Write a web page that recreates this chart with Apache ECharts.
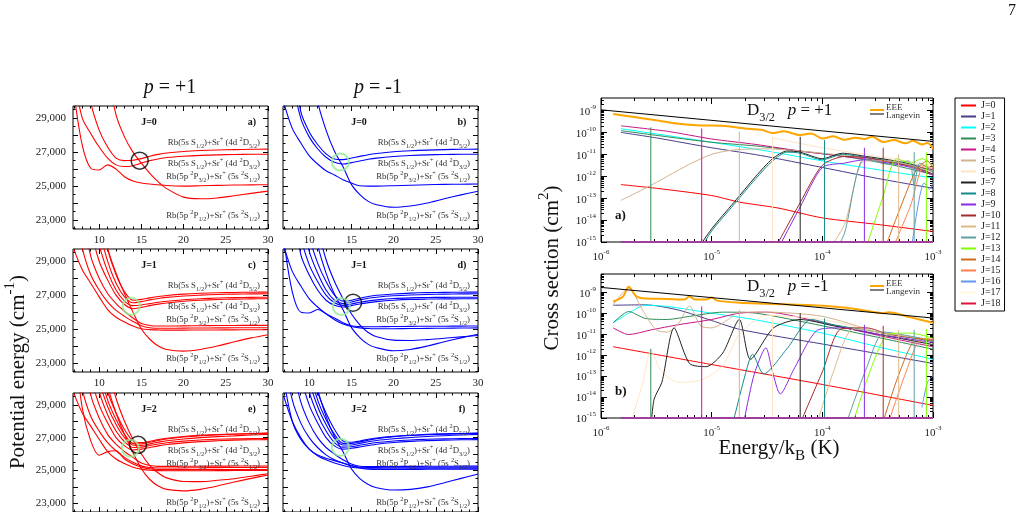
<!DOCTYPE html>
<html>
<head>
<meta charset="utf-8">
<script src="https://cdn.jsdelivr.net/npm/echarts@6/dist/echarts.min.js"></script>
<style>
html, body { margin: 0; padding: 0; background: #fff; }
#main { width: 1026px; height: 512px; }
</style>
</head>
<body>
<div id="main"></div>
<script>
// ---- potential curves (left), energies in cm-1 sampled on rGrid (bohr) ----
var rGrid = [7, 8, 9, 10, 11, 12, 13, 14, 15, 16, 17, 18, 20, 22, 24, 26, 28, 30];
var rTicks = [10, 15, 20, 25, 30];
var eTicks = [23000, 25000, 27000, 29000];

var potA = [
  [60000, 50000, 42000, 36000, 31800, 29200, 27900, 27000, 26350, 25750, 25250, 24850, 24350, 24250, 24300, 24430, 24570, 24700],
  [30500, 27400, 26050, 25950, 26250, 26000, 25550, 25300, 25180, 25120, 25080, 25030, 25000, 25020, 25040, 25060, 25070, 25080],
  [45000, 36000, 30000, 28300, 27300, 26650, 26500, 26520, 26620, 26760, 26870, 26950, 27040, 27095, 27130, 27150, 27168, 27180],
  [31500, 29000, 28100, 27300, 26650, 26250, 26150, 26200, 26350, 26500, 26600, 26680, 26760, 26810, 26840, 26860, 26872, 26880]
];
var potB = [
  [60000, 52000, 44000, 33500, 30000, 28300, 27050, 26150, 25100, 24500, 24100, 23900, 23750, 23830, 24000, 24250, 24480, 24690],
  [29900, 28400, 27550, 26800, 26300, 25900, 25650, 25380, 25180, 25020, 25000, 25000, 25020, 25050, 25080, 25100, 25110, 25120],
  [40000, 33000, 29400, 28200, 27450, 26900, 26600, 26560, 26650, 26750, 26850, 26920, 27020, 27080, 27120, 27150, 27170, 27180],
  [38000, 31500, 29000, 27900, 27200, 26700, 26400, 26300, 26380, 26480, 26580, 26650, 26740, 26800, 26840, 26860, 26872, 26880]
];
var potC = [
  [60000, 50000, 42000, 33000, 29800, 28300, 27100, 26000, 25000, 24400, 24000, 23800, 23700, 23800, 24000, 24250, 24480, 24670],
  [29700, 28500, 27700, 26900, 26150, 25700, 25420, 25180, 25020, 24970, 24950, 24940, 24940, 24945, 24950, 24955, 24958, 24960],
  [33000, 29800, 28200, 27300, 26600, 26100, 25750, 25450, 25200, 25080, 25050, 25050, 25055, 25065, 25070, 25075, 25078, 25080],
  [38000, 32000, 29300, 28000, 27100, 26500, 26050, 25650, 25330, 25210, 25180, 25180, 25190, 25200, 25210, 25215, 25218, 25220],
  [45000, 36000, 31000, 29000, 27900, 27000, 26450, 26200, 26280, 26380, 26470, 26540, 26640, 26700, 26740, 26765, 26780, 26790],
  [50000, 40000, 33000, 30000, 28400, 27300, 26650, 26380, 26420, 26500, 26580, 26640, 26730, 26790, 26830, 26855, 26870, 26880],
  [55000, 43000, 35000, 31000, 29000, 27700, 26900, 26550, 26620, 26720, 26800, 26870, 26950, 27000, 27040, 27060, 27072, 27080],
  [60000, 46000, 37000, 32000, 29700, 28200, 27200, 26700, 26750, 26840, 26920, 26980, 27060, 27110, 27140, 27160, 27172, 27180]
];
var potD = [
  [60000, 52000, 44000, 33500, 30000, 28300, 27050, 26150, 25100, 24500, 24100, 23900, 23720, 23800, 24000, 24250, 24480, 24690],
  [60000, 50000, 40000, 34000, 31000, 29100, 27800, 26800, 25900, 25250, 24800, 24550, 24350, 24330, 24380, 24460, 24540, 24620],
  [30200, 27200, 26000, 25950, 26150, 25900, 25550, 25300, 25150, 25070, 25030, 25020, 25020, 25030, 25040, 25050, 25060, 25070],
  [29900, 28400, 27550, 26800, 26300, 25900, 25650, 25380, 25200, 25150, 25140, 25140, 25150, 25160, 25165, 25170, 25175, 25180],
  [40000, 33000, 29400, 28200, 27300, 26700, 26400, 26300, 26380, 26480, 26560, 26620, 26700, 26750, 26770, 26780, 26785, 26790],
  [44000, 35000, 30500, 28800, 27800, 27000, 26550, 26400, 26480, 26580, 26660, 26720, 26800, 26840, 26860, 26870, 26876, 26880],
  [48000, 38000, 32000, 29600, 28300, 27300, 26700, 26500, 26600, 26720, 26820, 26880, 26960, 27010, 27040, 27060, 27072, 27080],
  [52000, 41000, 34000, 30500, 28900, 27800, 27000, 26650, 26700, 26820, 26920, 26990, 27070, 27120, 27150, 27165, 27175, 27180]
];
var potE = [
  [60000, 50000, 42000, 34000, 30200, 28500, 27200, 26100, 25100, 24450, 24050, 23850, 23760, 23850, 24050, 24300, 24520, 24720],
  [60000, 52000, 44000, 36000, 31500, 29400, 28000, 26900, 26000, 25300, 24850, 24550, 24330, 24320, 24400, 24500, 24650, 24800],
  [33000, 28800, 26800, 25930, 26150, 26200, 25700, 25400, 25200, 25100, 25060, 25050, 25050, 25052, 25055, 25058, 25060, 25060],
  [29700, 28500, 27700, 26900, 26150, 25700, 25420, 25200, 25080, 25010, 24990, 24980, 24980, 24985, 24990, 24995, 24998, 25000],
  [34000, 30000, 28300, 27400, 26700, 26200, 25800, 25500, 25280, 25180, 25150, 25150, 25160, 25170, 25175, 25180, 25185, 25190],
  [38000, 32500, 29600, 28200, 27200, 26600, 26150, 25800, 25450, 25300, 25250, 25250, 25255, 25260, 25265, 25270, 25272, 25275],
  [42000, 35000, 30800, 29000, 27900, 27000, 26500, 26250, 26300, 26400, 26500, 26580, 26680, 26760, 26810, 26850, 26870, 26880],
  [46000, 37000, 32000, 29800, 28400, 27400, 26750, 26400, 26420, 26520, 26610, 26690, 26790, 26860, 26900, 26925, 26940, 26950],
  [50000, 40000, 33500, 30500, 28900, 27800, 27000, 26550, 26520, 26620, 26720, 26810, 26920, 27000, 27060, 27110, 27160, 27200],
  [54000, 43000, 35000, 31200, 29300, 28100, 27200, 26650, 26620, 26720, 26830, 26920, 27040, 27120, 27170, 27210, 27240, 27260],
  [58000, 46000, 37000, 32000, 29800, 28500, 27500, 26800, 26700, 26780, 26880, 26960, 27070, 27140, 27190, 27225, 27250, 27275]
];
var potF = [
  [60000, 52000, 44000, 33500, 30000, 28300, 27050, 26150, 25100, 24500, 24150, 23950, 23810, 23850, 24000, 24250, 24520, 24780],
  [29500, 28000, 27000, 26300, 25900, 25650, 25450, 25300, 25200, 25150, 25140, 25140, 25140, 25140, 25140, 25140, 25140, 25140],
  [32000, 29300, 27900, 27000, 26400, 25950, 25650, 25450, 25280, 25200, 25190, 25190, 25195, 25200, 25200, 25200, 25200, 25200],
  [36000, 31500, 29200, 27900, 27000, 26400, 26000, 25650, 25400, 25260, 25240, 25240, 25245, 25250, 25255, 25260, 25262, 25265],
  [30500, 28000, 26900, 26300, 25950, 25750, 25600, 25450, 25300, 25150, 25080, 25060, 25060, 25065, 25070, 25075, 25078, 25080],
  [42000, 35000, 30800, 29000, 27900, 27000, 26500, 26300, 26350, 26430, 26520, 26600, 26700, 26770, 26820, 26850, 26870, 26880],
  [46000, 37000, 32000, 29800, 28400, 27400, 26700, 26420, 26450, 26540, 26630, 26700, 26800, 26860, 26900, 26925, 26940, 26950],
  [50000, 40000, 33500, 30500, 28900, 27800, 26950, 26550, 26550, 26650, 26750, 26830, 26930, 27010, 27070, 27120, 27165, 27200],
  [54000, 43000, 35000, 31200, 29300, 28100, 27200, 26650, 26640, 26740, 26850, 26940, 27050, 27130, 27180, 27215, 27240, 27260],
  [58000, 46000, 37000, 32000, 29800, 28500, 27500, 26800, 26720, 26800, 26900, 26980, 27080, 27150, 27200, 27230, 27255, 27275]
];
// avoided-crossing rings: [panel, r, E]
var ringsBlack = [[0, 14.8, 26500], [3, 15.2, 26550], [4, 14.6, 26560]];
var ringsGreen = [[1, 13.7, 26420], [2, 13.8, 26350], [3, 13.8, 26330], [4, 13.7, 26350], [5, 13.7, 26410]];

// ---- cross sections (right): pairs [log10 E/kB, log10 sigma] ----
var jNames = ['J=0', 'J=1', 'J=2', 'J=3', 'J=4', 'J=5', 'J=6', 'J=7', 'J=8', 'J=9',
  'J=10', 'J=11', 'J=12', 'J=13', 'J=14', 'J=15', 'J=16', 'J=17', 'J=18'];
var jColors = ['#ff0000', '#483d8b', '#00ffff', '#2e8b57', '#c71585', '#d2b48c', '#ffe4c4', '#222222', '#138a8a', '#8a2be2',
  '#a52a2a', '#deb887', '#5f9ea0', '#7fff00', '#d2691e', '#ff7f50', '#6495ed', '#fff8dc', '#dc143c'];
var logETicks = [-6, -5, -4, -3];
var logSigmaTicks = [-15, -14, -13, -12, -11, -10, -9];

var crossPlus = [
  [[-5.82, -12.38], [-5.5, -12.55], [-5.0, -12.88], [-4.75, -13.18], [-4.4, -13.45], [-4.0, -13.9], [-3.5, -14.2], [-3.0, -14.52]],
  [[-5.82, -10.0], [-5.5, -10.25], [-5.0, -10.7], [-4.56, -11.05], [-4.0, -11.6], [-3.5, -12.1], [-3.0, -12.55]],
  [[-5.82, -9.83], [-5.0, -10.45], [-4.5, -10.85], [-4.0, -11.3], [-3.5, -11.7], [-3.0, -12.08]],
  [[-5.82, -9.92], [-5.4, -10.2], [-5.0, -10.45], [-4.6, -10.62], [-4.2, -10.85], [-3.8, -11.1], [-3.4, -11.45], [-3.0, -11.92]],
  [[-5.82, -9.7], [-5.4, -9.95], [-5.0, -10.3], [-4.6, -10.55], [-4.2, -10.85], [-3.8, -11.1], [-3.4, -11.35], [-3.0, -11.7]],
  [[-5.82, -13.1], [-5.6, -12.55], [-5.4, -12.0], [-5.2, -11.45], [-5.0, -11.0], [-4.8, -10.8], [-4.5, -10.75], [-4.2, -10.85], [-3.8, -11.05], [-3.4, -11.3], [-3.0, -11.6]],
  [[-4.45, -10.25], [-4.0, -10.7], [-3.5, -11.1], [-3.0, -11.5]],
  [[-5.15, -15.5], [-5.0, -14.4], [-4.8, -13.2], [-4.6, -12.0], [-4.45, -11.2], [-4.32, -10.85], [-4.2, -10.9], [-4.0, -11.2], [-3.82, -10.95], [-3.6, -11.1], [-3.4, -11.25], [-3.2, -11.45], [-3.0, -11.8]],
  [[-5.12, -15.5], [-5.0, -14.5], [-4.8, -13.3], [-4.6, -12.1], [-4.45, -11.3], [-4.32, -10.9], [-4.2, -10.95], [-4.0, -11.25], [-3.82, -11.0], [-3.6, -11.15], [-3.4, -11.3], [-3.2, -11.5], [-3.0, -11.9]],
  [[-4.42, -15.5], [-4.2, -13.4], [-4.0, -11.6], [-3.8, -11.4], [-3.62, -11.25], [-3.4, -11.4], [-3.2, -11.6], [-3.0, -11.95]],
  [[-4.45, -15.5], [-4.2, -13.2], [-4.0, -11.5], [-3.8, -11.1], [-3.6, -11.15], [-3.4, -11.35], [-3.2, -11.55], [-3.0, -11.9]],
  [[-4.0, -15.8], [-3.8, -14.2], [-3.62, -11.3], [-3.4, -11.3], [-3.2, -11.5], [-3.0, -11.8]],
  [[-3.9, -15.6], [-3.8, -14.6], [-3.62, -11.2], [-3.4, -11.45], [-3.22, -11.3], [-3.17, -12.4], [-3.12, -11.4], [-3.0, -11.8]],
  [[-3.62, -15.5], [-3.45, -12.9], [-3.33, -11.2], [-3.2, -11.4], [-3.1, -11.2], [-3.0, -11.5]],
  [[-3.45, -15.5], [-3.3, -13.5], [-3.15, -11.7], [-3.05, -11.3], [-3.0, -11.6]],
  [[-3.38, -15.5], [-3.2, -13.3], [-3.08, -11.5], [-3.0, -11.7]],
  [[-3.2, -15.5], [-3.08, -12.3], [-3.03, -12.6], [-3.0, -12.3]]
];
var crossMinus = [
  [[-5.89, -11.6], [-5.0, -12.45], [-4.0, -13.4], [-3.0, -14.4]],
  [[-5.89, -9.62], [-5.6, -9.6], [-5.3, -9.85], [-5.0, -10.35], [-4.74, -10.78], [-4.0, -11.47], [-3.5, -11.93], [-3.0, -12.4]],
  [[-5.89, -10.46], [-5.75, -10.0], [-5.6, -9.62], [-5.4, -9.68], [-5.0, -10.0], [-4.6, -10.32], [-4.0, -10.95], [-3.5, -11.6], [-3.0, -12.2]],
  [[-5.89, -10.46], [-5.75, -9.92], [-5.6, -10.25], [-5.4, -10.3], [-5.2, -10.15], [-4.9, -9.95], [-4.6, -10.0], [-4.0, -10.6], [-3.5, -11.15], [-3.0, -11.72]],
  [[-5.89, -10.7], [-5.75, -11.02], [-5.55, -10.8], [-5.3, -10.55], [-5.0, -10.3], [-4.75, -10.0], [-4.5, -9.95], [-4.0, -10.45], [-3.5, -11.05], [-3.0, -11.6]],
  [[-5.89, -9.6], [-5.75, -8.8], [-5.62, -9.9], [-5.5, -10.8], [-5.4, -10.9], [-5.3, -10.5], [-5.2, -9.65], [-5.1, -10.6], [-5.0, -10.7], [-4.85, -10.3], [-4.75, -9.95], [-4.5, -9.95], [-4.0, -10.15], [-3.5, -10.9], [-3.0, -11.5]],
  [[-5.75, -15.5], [-5.62, -13.3], [-5.55, -11.8], [-5.45, -12.8], [-5.3, -13.3], [-5.1, -13.2], [-4.9, -12.5], [-4.75, -11.0], [-4.5, -10.1], [-4.0, -10.3], [-3.5, -10.9], [-3.0, -11.5]],
  [[-5.55, -15.5], [-5.52, -14.1], [-5.45, -13.3], [-5.34, -10.7], [-5.2, -12.4], [-5.05, -12.55], [-4.9, -11.9], [-4.75, -10.3], [-4.65, -12.2], [-4.44, -10.7], [-4.2, -10.3], [-3.9, -10.6], [-3.5, -11.0], [-3.0, -11.5]],
  [[-4.82, -15.5], [-4.7, -13.0], [-4.63, -11.96], [-4.53, -12.9], [-4.32, -11.7], [-4.1, -10.3], [-3.9, -10.55], [-3.5, -10.9], [-3.0, -11.35]],
  [[-4.72, -15.5], [-4.62, -13.0], [-4.51, -11.65], [-4.45, -12.8], [-4.38, -13.85], [-4.25, -12.6], [-4.04, -10.8], [-3.83, -10.7], [-3.5, -11.0], [-3.0, -11.4]],
  [[-4.22, -15.5], [-4.0, -12.8], [-3.83, -10.75], [-3.6, -10.7], [-3.4, -11.0], [-3.0, -11.3]],
  [[-4.06, -15.5], [-3.9, -12.8], [-3.72, -10.75], [-3.5, -10.9], [-3.0, -11.3]],
  [[-3.8, -15.5], [-3.6, -12.6], [-3.44, -10.9], [-3.2, -11.1], [-3.0, -11.3]],
  [[-3.74, -15.5], [-3.55, -12.5], [-3.4, -11.0], [-3.2, -10.95], [-3.0, -11.2]],
  [[-3.47, -15.5], [-3.3, -12.8], [-3.14, -11.2], [-3.0, -11.3]],
  [[-3.42, -15.5], [-3.25, -12.9], [-3.1, -11.2], [-3.0, -11.25]],
  [[-3.1, -14.5], [-3.05, -13.3], [-3.0, -13.0]]
];
var eeePlus = [[-5.89, -9.16], [-5.7, -9.3], [-5.5, -9.45], [-5.3, -9.6], [-5.1, -9.68], [-4.9, -9.7], [-4.7, -9.82], [-4.55, -9.88], [-4.45, -10.03], [-4.35, -9.95], [-4.2, -10.12], [-4.1, -10.05], [-4.0, -10.28], [-3.9, -10.18], [-3.8, -10.34], [-3.7, -10.24], [-3.62, -10.3], [-3.55, -10.2], [-3.45, -10.44], [-3.35, -10.35], [-3.25, -10.5], [-3.18, -10.38], [-3.1, -10.55], [-3.05, -10.48], [-3.0, -10.75]];
var eeeMinus = [[-5.89, -9.44], [-5.8, -9.2], [-5.75, -8.74], [-5.68, -9.2], [-5.6, -9.3], [-5.4, -9.32], [-5.25, -9.35], [-5.2, -9.2], [-5.15, -9.35], [-5.05, -9.35], [-5.0, -9.25], [-4.95, -9.4], [-4.75, -9.5], [-4.5, -9.55], [-4.0, -9.65], [-3.7, -9.8], [-3.45, -10.0], [-3.4, -9.95], [-3.2, -10.2], [-3.0, -10.46]];
var langevinPlus = [[-6, -8.97], [-3, -10.41]];
var langevinMinus = [[-6, -8.77], [-3, -10.23]];
// threshold jumps: [log E, log sigma top, J]
var vertPlus = [[-5.55, -9.77, 3], [-5.09, -9.82, 4], [-4.75, -9.97, 5], [-4.45, -10.2, 6], [-4.2, -10.2, 7], [-3.98, -10.35, 8], [-3.62, -10.7, 9], [-3.45, -10.7, 10], [-3.31, -11.0, 11], [-3.17, -10.9, 12], [-3.06, -10.9, 13]];
var vertMinus = [[-5.55, -11.7, 3], [-5.09, -9.68, 4], [-4.75, -9.84, 5], [-4.45, -10.0, 6], [-4.2, -10.0, 7], [-3.98, -10.25, 8], [-3.62, -10.55, 9], [-3.45, -10.6, 10], [-3.31, -10.8, 11], [-3.17, -10.8, 12], [-3.06, -10.75, 13]];

// ---- drawing ----
var SERIF = 'Liberation Serif';
var chart = echarts.init(document.getElementById('main'));
var grids = [], xAxes = [], yAxes = [], series = [], graphics = [];

function addGrid(r) {
  grids.push({left: r[0], top: r[1], width: r[2], height: r[3], show: true,
    borderColor: '#000', borderWidth: 1, backgroundColor: 'transparent'});
  return grids.length - 1;
}

function tickAxis(g, pos, c, vals, len, label) {
  return {
    gridIndex: g, type: c.type, position: pos, min: c.min, max: c.max,
    axisLine: {show: false, onZero: false},
    splitLine: {show: false},
    axisTick: {show: true, inside: true, length: len, customValues: vals, lineStyle: {color: '#000', width: 1}},
    axisLabel: label || {show: false}
  };
}

function addAxes(g, xc, yc) {
  var xi = xAxes.length, yi = yAxes.length;
  xAxes.push(tickAxis(g, 'bottom', xc, xc.major, xc.len, xc.label));
  xAxes.push(tickAxis(g, 'top', xc, xc.major, xc.len));
  xAxes.push(tickAxis(g, 'bottom', xc, xc.minor, xc.len / 2));
  xAxes.push(tickAxis(g, 'top', xc, xc.minor, xc.len / 2));
  yAxes.push(tickAxis(g, 'left', yc, yc.major, yc.len, yc.label));
  yAxes.push(tickAxis(g, 'right', yc, yc.major, yc.len));
  yAxes.push(tickAxis(g, 'left', yc, yc.minor, yc.len / 2));
  yAxes.push(tickAxis(g, 'right', yc, yc.minor, yc.len / 2));
  return {x: xi, y: yi};
}

function rich(size, color) {
  var s = size * 0.72;
  return {
    sb: {fontFamily: SERIF, fontSize: s, fill: color, lineHeight: s + 1, verticalAlign: 'bottom'},
    sp: {fontFamily: SERIF, fontSize: s, fill: color, lineHeight: s + 1, verticalAlign: 'top'},
    it: {fontFamily: SERIF, fontSize: size, fontStyle: 'italic', fill: color, lineHeight: size * 1.45, verticalAlign: 'middle'}
  };
}

function gtext(x, y, text, size, o) {
  o = o || {};
  var color = o.color || '#111';
  return {
    type: 'text', x: x, y: y, rotation: o.rot || 0, silent: true, z: 100,
    style: {text: text, fontFamily: SERIF, fontSize: size, fontWeight: o.weight || 'normal',
      fill: color, align: o.align || 'left', verticalAlign: 'middle',
      lineHeight: size * 1.45, rich: rich(size, color)}
  };
}

// left: potential energy panels
var rMinor = [], eMajor = [], eMinor = [];
for (var r = 7; r <= 29; r++) { if (rTicks.indexOf(r) < 0) rMinor.push(r); }
for (var e = 23000; e <= 29000; e += 1000) { eMajor.push(e); eMinor.push(e - 500); }
eMinor.push(29500);

function rCfg(show) {
  return {type: 'value', min: 6.9, max: 30, major: rTicks, minor: rMinor, len: 5,
    label: show ? {show: true, customValues: rTicks, fontFamily: SERIF, fontSize: 11, color: '#222', margin: 6} : null};
}
function eCfg(show) {
  return {type: 'value', min: 22470, max: 29720, major: eMajor, minor: eMinor, len: 5,
    label: show ? {show: true, customValues: eTicks, fontFamily: SERIF, fontSize: 11, color: '#222', margin: 7} : null};
}

var asym = [
  'Rb(5s S{sb|1/2})+Sr{sp|+} (4d {sp|2}D{sb|5/2})',
  'Rb(5s S{sb|1/2})+Sr{sp|+} (4d {sp|2}D{sb|3/2})',
  'Rb(5p {sp|2}P{sb|3/2})+Sr{sp|+} (5s {sp|2}S{sb|1/2})',
  'Rb(5p {sp|2}P{sb|1/2})+Sr{sp|+} (5s {sp|2}S{sb|1/2})'
];
var asymDy = [37, 58, 71, 110];

var potPanels = [
  {rect: [73, 106, 195, 123], curves: potA, color: '#ff0000', j: 'J=0', tag: 'a)', xl: true, yl: true},
  {rect: [283, 106, 195, 123], curves: potB, color: '#0000ff', j: 'J=0', tag: 'b)', xl: true, yl: false},
  {rect: [73, 249, 195, 123], curves: potC, color: '#ff0000', j: 'J=1', tag: 'c)', xl: true, yl: true},
  {rect: [283, 249, 195, 123], curves: potD, color: '#0000ff', j: 'J=1', tag: 'd)', xl: true, yl: false},
  {rect: [73, 393, 195, 123], curves: potE, color: '#ff0000', j: 'J=2', tag: 'e)', xl: false, yl: true},
  {rect: [283, 393, 195, 123], curves: potF, color: '#0000ff', j: 'J=2', tag: 'f)', xl: false, yl: false}
];

potPanels.forEach(function (p, pi) {
  var g = addGrid(p.rect);
  var ax = addAxes(g, rCfg(p.xl), eCfg(p.yl));
  p.curves.forEach(function (vals) {
    series.push({type: 'line', xAxisIndex: ax.x, yAxisIndex: ax.y, silent: true,
      data: rGrid.map(function (rv, k) { return [rv, vals[k]]; }),
      smooth: 0.3, symbol: 'none', lineStyle: {color: p.color, width: 1.1}});
  });
  [[ringsBlack, '#000', 1.5], [ringsGreen, '#90ee90', 2]].forEach(function (rs) {
    var pts = rs[0].filter(function (q) { return q[0] === pi; }).map(function (q) { return [q[1], q[2]]; });
    if (pts.length) {
      series.push({type: 'scatter', xAxisIndex: ax.x, yAxisIndex: ax.y, silent: true, z: 5,
        data: pts, symbol: 'circle', symbolSize: 17,
        itemStyle: {color: 'rgba(0,0,0,0)', borderColor: rs[1], borderWidth: rs[2]}});
    }
  });
  var L = p.rect[0], T = p.rect[1], R = L + p.rect[2];
  graphics.push(gtext(L + 76, T + 16, p.j, 10, {weight: 'bold', align: 'center'}));
  graphics.push(gtext(R - 16, T + 16, p.tag, 10, {weight: 'bold', align: 'center'}));
  asym.forEach(function (s, k) {
    graphics.push(gtext(R - 8, T + asymDy[k], s, 8.8, {align: 'right', color: '#333'}));
  });
});

// right: cross-section panels
function pw(q) { return [Math.pow(10, q[0]), Math.pow(10, q[1])]; }
function logMinor(lo, hi) {
  var out = [];
  for (var n = lo; n <= hi; n++) for (var k = 2; k <= 9; k++) out.push(k * Math.pow(10, n));
  return out;
}
var logRich = {
  b: {fontFamily: SERIF, fontSize: 11, color: '#222', lineHeight: 14, verticalAlign: 'bottom'},
  s: {fontFamily: SERIF, fontSize: 7, color: '#222', lineHeight: 8, verticalAlign: 'top'}
};
function logFmt(v) { return '{b|10}{s|' + Math.round(Math.log(v) / Math.LN10) + '}'; }

var crossPanels = [
  {rect: [601, 98, 332, 144], ymax: -8.43, curves: crossPlus, eee: eeePlus, lang: langevinPlus, verts: vertPlus, p: '+1', tag: 'a)'},
  {rect: [601, 274, 332, 144], ymax: -8.13, curves: crossMinus, eee: eeeMinus, lang: langevinMinus, verts: vertMinus, p: '-1', tag: 'b)'}
];

crossPanels.forEach(function (p, pi) {
  var g = addGrid(p.rect);
  var xc = {type: 'log', min: 1e-6, max: 1e-3, len: 6,
    major: logETicks.map(function (n) { return Math.pow(10, n); }), minor: logMinor(-6, -4),
    label: {show: true, customValues: logETicks.map(function (n) { return Math.pow(10, n); }),
      formatter: logFmt, rich: logRich, margin: 7}};
  var yc = {type: 'log', min: 1e-15, max: Math.pow(10, p.ymax), len: 6,
    major: logSigmaTicks.map(function (n) { return Math.pow(10, n); }), minor: logMinor(-15, -9),
    label: {show: true, customValues: logSigmaTicks.map(function (n) { return Math.pow(10, n); }),
      formatter: logFmt, rich: logRich, margin: 5}};
  var ax = addAxes(g, xc, yc);
  var base = {type: 'line', xAxisIndex: ax.x, yAxisIndex: ax.y, symbol: 'none', silent: true};
  p.curves.forEach(function (pts, j) {
    series.push(Object.assign({}, base, {name: jNames[j], color: jColors[j], data: pts.map(pw),
      smooth: 0.25, lineStyle: {width: 1, color: jColors[j]}}));
  });
  p.verts.forEach(function (v) {
    series.push(Object.assign({}, base, {name: jNames[v[2]], color: jColors[v[2]],
      data: [pw([v[0], -15]), pw([v[0], v[1]])], lineStyle: {width: 1, color: jColors[v[2]]}}));
  });
  series.push(Object.assign({}, base, {data: [pw([-5.82, -15]), pw([-3, -15])], clip: false, z: 3,
    lineStyle: {width: 2, color: '#a0409a'}}));
  series.push(Object.assign({}, base, {data: p.eee.map(pw), smooth: 0.3, z: 4,
    lineStyle: {width: 2, color: '#ffa500'}}));
  series.push(Object.assign({}, base, {data: p.lang.map(pw), z: 4,
    lineStyle: {width: 1, color: '#000'}}));
  if (pi === 0) {
    [17, 18].forEach(function (j) {
      series.push(Object.assign({}, base, {name: jNames[j], color: jColors[j], data: []}));
    });
  }
  var L = p.rect[0], T = p.rect[1];
  graphics.push(gtext(L + 146, T + 13, 'D{sb|3/2}   {it|p} = ' + p.p, 17));
  graphics.push(gtext(L + 14, T + 118, p.tag, 13, {weight: 'bold'}));
  var ly = T + 12;
  graphics.push({type: 'line', silent: true, shape: {x1: L + 269, y1: ly, x2: L + 283, y2: ly}, style: {stroke: '#ffa500', lineWidth: 2}});
  graphics.push({type: 'line', silent: true, shape: {x1: L + 269, y1: ly + 4, x2: L + 283, y2: ly + 4}, style: {stroke: '#000', lineWidth: 1}});
  graphics.push(gtext(L + 285, ly - 2, 'EEE', 9, {color: '#333'}));
  graphics.push(gtext(L + 285, ly + 5.5, 'Langevin', 9, {color: '#333'}));
});

// titles
graphics.push(gtext(170, 88, '{it|p} = +1', 20, {align: 'center'}));
graphics.push(gtext(378, 88, '{it|p} = -1', 20, {align: 'center'}));
graphics.push(gtext(18, 372, 'Potential energy (cm{sp|-1})', 21, {align: 'center', rot: Math.PI / 2}));
graphics.push(gtext(552, 268, 'Cross section (cm{sp|2})', 21, {align: 'center', rot: Math.PI / 2}));
graphics.push(gtext(779, 448, 'Energy/k{sb|B} (K)', 21, {align: 'center'}));
graphics.push(gtext(1012, 11, '7', 16, {align: 'center'}));

chart.setOption({
  animation: false,
  backgroundColor: '#fff',
  textStyle: {fontFamily: SERIF},
  grid: grids,
  xAxis: xAxes,
  yAxis: yAxes,
  legend: {
    data: jNames, orient: 'vertical', left: 955, top: 98,
    icon: 'rect', itemWidth: 15, itemHeight: 2, itemGap: 0,
    padding: [2, 4, 2, 6], borderColor: '#000', borderWidth: 1,
    selectedMode: false,
    textStyle: {fontFamily: SERIF, fontSize: 10, color: '#222', lineHeight: 11}
  },
  series: series,
  graphic: graphics
});
</script>
</body>
</html>
